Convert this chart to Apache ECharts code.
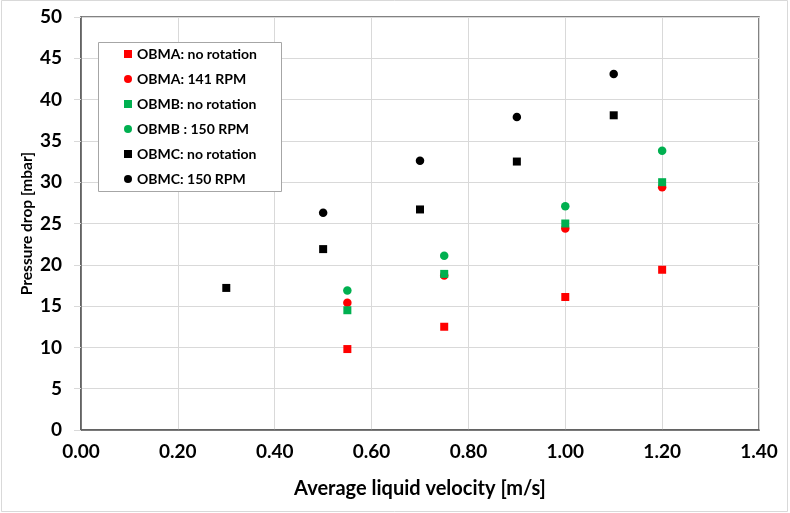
<!DOCTYPE html>
<html>
<head>
<meta charset="utf-8">
<script src="https://cdn.jsdelivr.net/npm/echarts@6/dist/echarts.min.js"></script>
<style>
html,body{margin:0;padding:0;background:#fff;}
#chart{width:790px;height:513px;}
</style>
</head>
<body>
<div id="chart"></div>
<script>
var seriesNames = ['OBMA: no rotation','OBMA: 141 RPM','OBMB: no rotation','OBMB : 150 RPM','OBMC: no rotation','OBMC: 150 RPM'];
var xAB = [0.55, 0.75, 1.00, 1.20];
var obmaNoRot = [9.8, 12.5, 16.1, 19.4];
var obma141 = [15.4, 18.7, 24.4, 29.4];
var obmbNoRot = [14.5, 18.9, 25.0, 30.0];
var obmb150 = [16.9, 21.1, 27.1, 33.8];
var xCNoRot = [0.30, 0.50, 0.70, 0.90, 1.10];
var obmcNoRot = [17.2, 21.9, 26.7, 32.5, 38.1];
var xC150 = [0.50, 0.70, 0.90, 1.10];
var obmc150 = [26.3, 32.6, 37.9, 43.1];

function pairs(xs, ys){ return xs.map(function(x,i){ return [x, ys[i]]; }); }

var styles = [
  {sym:'rect', color:'#FF0000'},
  {sym:'circle', color:'#FF0000'},
  {sym:'rect', color:'#00B050'},
  {sym:'circle', color:'#00B050'},
  {sym:'rect', color:'#000000'},
  {sym:'circle', color:'#000000'}
];
var datas = [
  pairs(xAB, obmaNoRot), pairs(xAB, obma141), pairs(xAB, obmbNoRot),
  pairs(xAB, obmb150), pairs(xCNoRot, obmcNoRot), pairs(xC150, obmc150)
];

var font = 'Lato, "Open Sans", sans-serif';
var chart = echarts.init(document.getElementById('chart'), null, {renderer:'canvas'});
chart.setOption({
  animation:false,
  backgroundColor:'#fff',
  graphic:[
    {type:'rect', shape:{x:1.5, y:0.5, width:786, height:511}, style:{fill:'none', stroke:'#d9d9d9', lineWidth:1}, z:-10},
    {type:'rect', shape:{x:98.5, y:42.5, width:183, height:149}, style:{fill:'#fff', stroke:'#a6a6a6', lineWidth:1}, z:5}
  ],
  grid:{left:81, right:31, top:17, bottom:83, show:true, borderColor:'#595959', borderWidth:1.5, backgroundColor:'transparent'},
  xAxis:{
    type:'value', min:0, max:1.4, interval:0.2,
    name:'Average liquid velocity [m/s]', nameLocation:'middle', nameGap:49, nameMoveOverlap:false,
    nameTextStyle:{fontFamily:font, fontWeight:'bold', fontSize:20, color:'#000'},
    axisLine:{show:true, onZero:false, lineStyle:{color:'#595959', width:1.5}},
    axisTick:{show:false},
    splitLine:{show:true, lineStyle:{color:'#d9d9d9', width:1}},
    axisLabel:{margin:12, fontFamily:font, fontWeight:'bold', fontSize:19, color:'#000',
      formatter:function(v){ return v.toFixed(2); }}
  },
  yAxis:{
    type:'value', min:0, max:50, interval:5,
    name:'Pressure drop [mbar]', nameLocation:'middle', nameGap:46, nameRotate:90, nameMoveOverlap:false,
    nameTextStyle:{fontFamily:font, fontWeight:'bold', fontSize:15.5, color:'#000'},
    axisLine:{show:true, onZero:false, lineStyle:{color:'#595959', width:1.5}},
    axisTick:{show:true, length:7, lineStyle:{color:'#d9d9d9'}},
    splitLine:{show:true, lineStyle:{color:'#d9d9d9', width:1}},
    axisLabel:{margin:19, fontFamily:font, fontWeight:'bold', fontSize:19, color:'#000'}
  },
  legend:{
    orient:'vertical', left:119, top:41, itemWidth:8, itemHeight:8, itemGap:9,
    z:10,
    textStyle:{fontFamily:font, fontWeight:'bold', fontSize:14, color:'#000', lineHeight:16},
    data:seriesNames.map(function(n,i){ return {name:n, icon:styles[i].sym}; })
  },
  series:seriesNames.map(function(n,i){
    return {
      name:n, type:'scatter', data:datas[i], symbol:styles[i].sym,
      symbolSize:styles[i].sym==='rect'?8:8.5,
      itemStyle:{color:styles[i].color, opacity:1}
    };
  })
});
</script>
</body>
</html>
